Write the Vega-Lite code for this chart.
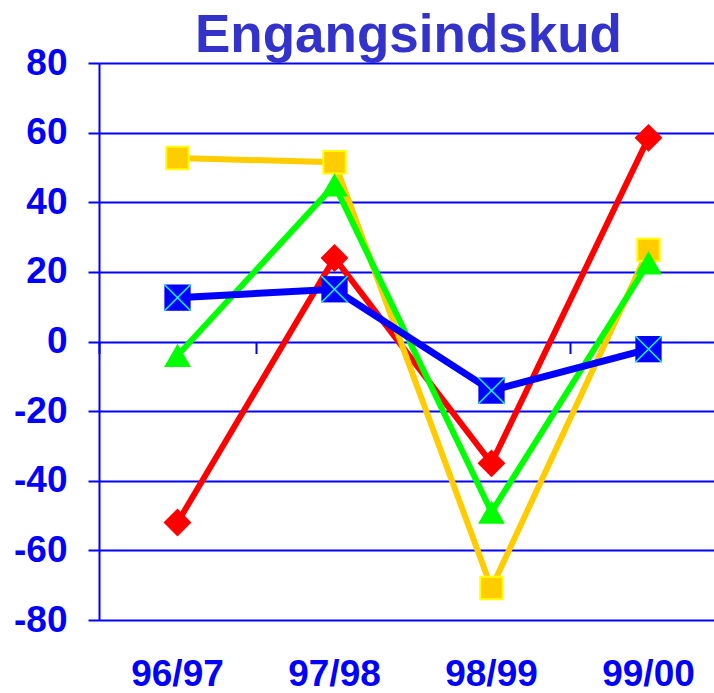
{
  "$schema": "https://vega.github.io/schema/vega-lite/v6.json",
  "autosize": "none",
  "width": 615,
  "height": 557,
  "padding": {"left": 99, "top": 63, "right": 0, "bottom": 73},
  "background": "white",
  "title": {
    "text": "Engangsindskud",
    "font": "Liberation Sans",
    "fontSize": 53,
    "fontWeight": "bold",
    "color": "#3333CC",
    "anchor": "middle",
    "frame": "group",
    "dx": 2,
    "dy": 19,
    "offset": 0
  },
  "config": {
    "view": {"stroke": null},
    "axis": {"labelFont": "Liberation Sans", "labelFontWeight": "bold", "labelColor": "#0000FF"}
  },
  "data": {
    "values": [
      {"period": "96/97", "series": "Rød", "value": -52},
      {"period": "97/98", "series": "Rød", "value": 24},
      {"period": "98/99", "series": "Rød", "value": -35},
      {"period": "99/00", "series": "Rød", "value": 58.5},
      {"period": "96/97", "series": "Gul", "value": 52.7},
      {"period": "97/98", "series": "Gul", "value": 51.5},
      {"period": "98/99", "series": "Gul", "value": -70.8},
      {"period": "99/00", "series": "Gul", "value": 26.3},
      {"period": "96/97", "series": "Grøn", "value": -4},
      {"period": "97/98", "series": "Grøn", "value": 45},
      {"period": "98/99", "series": "Grøn", "value": -49},
      {"period": "99/00", "series": "Grøn", "value": 22.6},
      {"period": "96/97", "series": "Blå", "value": 12.6},
      {"period": "97/98", "series": "Blå", "value": 15},
      {"period": "98/99", "series": "Blå", "value": -14.1},
      {"period": "99/00", "series": "Blå", "value": -2.2}
    ]
  },
  "encoding": {
    "y": {
      "field": "value",
      "type": "quantitative",
      "title": null,
      "scale": {"domain": [-80, 80], "nice": false, "zero": false},
      "axis": {
        "values": [-80, -60, -40, -20, 0, 20, 40, 60, 80],
        "labelExpr": "toString(datum.value)",
        "grid": true,
        "gridColor": "#0000FF",
        "gridWidth": 2,
        "gridOpacity": 1,
        "domain": true,
        "domainColor": "#0000FF",
        "domainWidth": 2,
        "ticks": true,
        "tickSize": 11,
        "tickColor": "#0000FF",
        "tickWidth": 2,
        "labelFontSize": 37,
        "labelPadding": 21,
        "labelBaseline": "middle"
      }
    }
  },
  "resolve": {"axis": {"x": "independent"}},
  "layer": [
    {
      "transform": [{"filter": "datum.series === 'Rød'"}],
      "mark": {"type": "line", "color": "#FF0000", "strokeWidth": 6},
      "encoding": {
        "x": {
          "field": "period", "type": "ordinal", "sort": null, "title": null,
          "scale": {"type": "band", "paddingInner": 0, "paddingOuter": 0, "range": [0, 628]},
          "axis": {
            "orient": "bottom", "domain": false, "ticks": false, "tickSize": 0, "grid": false,
            "labelAngle": 0, "labelFontSize": 37, "labelPadding": 65, "labelBaseline": "alphabetic"
          }
        }
      }
    },
    {
      "transform": [{"filter": "datum.series === 'Rød'"}],
      "mark": {"type": "point", "shape": "diamond", "filled": true, "fill": "#FF0000", "strokeWidth": 0, "size": 780, "opacity": 1},
      "encoding": {
        "x": {
          "field": "period", "type": "ordinal", "sort": null, "title": null,
          "scale": {"type": "band", "paddingInner": 0, "paddingOuter": 0, "range": [0, 628]},
          "axis": {
            "orient": "bottom", "offset": -278.5, "domain": false, "labels": false, "grid": false,
            "ticks": true, "tickBand": "extent", "tickSize": 12, "tickColor": "#0000FF", "tickWidth": 2
          }
        }
      }
    },
    {
      "transform": [{"filter": "datum.series === 'Gul'"}],
      "mark": {"type": "line", "color": "#FFCC00", "strokeWidth": 6},
      "encoding": {"x": {"field": "period", "type": "ordinal", "sort": null, "axis": null, "scale": {"type": "band", "paddingInner": 0, "paddingOuter": 0, "range": [0, 628]}}}
    },
    {
      "transform": [{"filter": "datum.series === 'Gul'"}],
      "mark": {"type": "point", "shape": "square", "filled": true, "fill": "#FFCC00", "stroke": "#FFFF00", "strokeWidth": 2, "size": 500, "opacity": 1},
      "encoding": {"x": {"field": "period", "type": "ordinal", "sort": null, "axis": null, "scale": {"type": "band", "paddingInner": 0, "paddingOuter": 0, "range": [0, 628]}}}
    },
    {
      "transform": [{"filter": "datum.series === 'Grøn'"}],
      "mark": {"type": "line", "color": "#00FF00", "strokeWidth": 6},
      "encoding": {"x": {"field": "period", "type": "ordinal", "sort": null, "axis": null, "scale": {"type": "band", "paddingInner": 0, "paddingOuter": 0, "range": [0, 628]}}}
    },
    {
      "transform": [{"filter": "datum.series === 'Grøn'"}],
      "mark": {"type": "point", "shape": "triangle-up", "filled": true, "fill": "#00FF00", "strokeWidth": 0, "size": 720, "opacity": 1},
      "encoding": {"x": {"field": "period", "type": "ordinal", "sort": null, "axis": null, "scale": {"type": "band", "paddingInner": 0, "paddingOuter": 0, "range": [0, 628]}}}
    },
    {
      "transform": [{"filter": "datum.series === 'Blå'"}],
      "mark": {"type": "line", "color": "#0000FF", "strokeWidth": 7},
      "encoding": {"x": {"field": "period", "type": "ordinal", "sort": null, "axis": null, "scale": {"type": "band", "paddingInner": 0, "paddingOuter": 0, "range": [0, 628]}}}
    },
    {
      "transform": [{"filter": "datum.series === 'Blå'"}],
      "mark": {"type": "point", "shape": "square", "filled": true, "fill": "#0000FF", "strokeWidth": 0, "size": 690, "opacity": 1},
      "encoding": {"x": {"field": "period", "type": "ordinal", "sort": null, "axis": null, "scale": {"type": "band", "paddingInner": 0, "paddingOuter": 0, "range": [0, 628]}}}
    },
    {
      "transform": [{"filter": "datum.series === 'Blå'"}],
      "mark": {"type": "point", "shape": "M-1,-1L1,1M1,-1L-1,1", "filled": false, "stroke": "#00FFFF", "strokeWidth": 1.5, "size": 690, "opacity": 1},
      "encoding": {"x": {"field": "period", "type": "ordinal", "sort": null, "axis": null, "scale": {"type": "band", "paddingInner": 0, "paddingOuter": 0, "range": [0, 628]}}}
    }
  ]
}
